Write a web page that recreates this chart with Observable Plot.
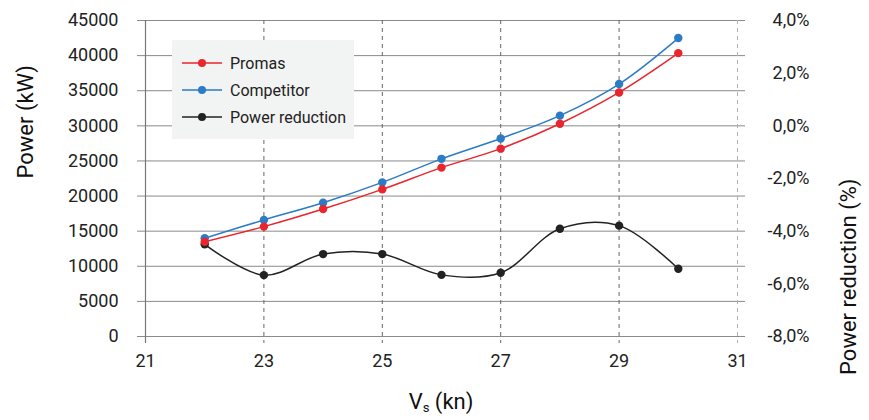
<!DOCTYPE html>
<html>
<head>
<meta charset="utf-8">
<script src="https://cdn.jsdelivr.net/npm/d3@7"></script>
<script src="https://cdn.jsdelivr.net/npm/@observablehq/plot@0.6"></script>
<style>
  body { margin: 0; background: #fff; font-family: Roboto, "Noto Sans", sans-serif; }
  #wrap { position: relative; width: 869px; height: 420px; }
  #legend { position: absolute; left: 172px; top: 40px; width: 182px; height: 99px; background: #f2f3f3; }
  .item { position: absolute; left: 10px; height: 20px; display: flex; align-items: center; font-size: 16px; color: #222; }
  .item svg { margin-right: 8px; }
  #xlabel { position: absolute; left: 0; width: 882px; top: 389px; text-align: center; font-size: 22px; color: #111; }
  #xlabel sub { font-size: 13px; vertical-align: -3px; }
</style>
</head>
<body>
<div id="wrap"></div>
<script>
const speeds = [22, 23, 24, 25, 26, 27, 28, 29, 30];
const promas = [13500, 15650, 18150, 20950, 24050, 26750, 30300, 34750, 40350];
const competitor = [14000, 16600, 19050, 21950, 25300, 28200, 31450, 35950, 42500];
const reduction = [-4.5, -5.67, -4.87, -4.87, -5.66, -5.58, -3.91, -3.79, -5.43];
const xTicks = [21, 23, 25, 27, 29, 31];
const leftTicks = [0, 5000, 10000, 15000, 20000, 25000, 30000, 35000, 40000, 45000];
const rightTicks = [-8, -6, -4, -2, 0, 2, 4];
const seriesNames = ["Promas", "Competitor", "Power reduction"];
const seriesColors = ["#e8262e", "#2b7bc6", "#222222"];

const pMin = -8, pMax = 4, kMax = 45000;
const toKW = p => (p - pMin) / (pMax - pMin) * kMax;
const fmtPct = p => (p < 0 ? "-" : "") + Math.abs(p).toFixed(1).replace(".", ",") + "%";

const rowsP = speeds.map((s, i) => ({x: s, y: promas[i]}));
const rowsC = speeds.map((s, i) => ({x: s, y: competitor[i]}));
const rowsR = speeds.map((s, i) => ({x: s, y: toKW(reduction[i])}));

const chart = Plot.plot({
  width: 869,
  height: 420,
  marginLeft: 145,
  marginRight: 132,
  marginTop: 20,
  marginBottom: 84,
  style: {fontFamily: "Roboto, sans-serif", fontSize: "18px", color: "#222", background: "transparent"},
  x: {domain: [21, 31], axis: null},
  y: {domain: [0, 45000], axis: null},
  marks: [
    Plot.ruleY(leftTicks, {stroke: "#8a8a8a", strokeWidth: 1, insetLeft: -8, insetRight: -8}),
    Plot.ruleX(xTicks.slice(1, -1), {stroke: "#666", strokeDasharray: "4,4", strokeWidth: 1, insetBottom: -7}),
    Plot.ruleX([31], {stroke: "#b0b0b0", strokeDasharray: "4,4", strokeWidth: 1, insetBottom: -7}),
    Plot.ruleX([21], {stroke: "#777", strokeWidth: 1.2, insetBottom: -7}),
    Plot.axisY(leftTicks, {anchor: "left", tickSize: 0, tickPadding: 27, tickFormat: d => String(d), fontSize: 18, label: null}),
    Plot.axisY(rightTicks.map(toKW), {anchor: "right", tickSize: 0, tickPadding: 0, textAnchor: "end", dx: 72, tickFormat: d => fmtPct(Math.round((d / kMax * (pMax - pMin) + pMin) * 10) / 10), fontSize: 18, label: null}),
    Plot.axisX(xTicks, {anchor: "bottom", tickSize: 0, tickPadding: 18, tickFormat: d => String(d), fontSize: 18, label: null}),
    Plot.line(rowsR, {x: "x", y: "y", curve: "catmull-rom", stroke: seriesColors[2], strokeWidth: 1.5}),
    Plot.line(rowsC, {x: "x", y: "y", curve: "catmull-rom", stroke: seriesColors[1], strokeWidth: 1.5}),
    Plot.line(rowsP, {x: "x", y: "y", curve: "catmull-rom", stroke: seriesColors[0], strokeWidth: 1.5}),
    Plot.dot(rowsR, {x: "x", y: "y", r: 4.2, fill: seriesColors[2]}),
    Plot.dot(rowsC, {x: "x", y: "y", r: 4.2, fill: seriesColors[1]}),
    Plot.dot(rowsP, {x: "x", y: "y", r: 4.2, fill: seriesColors[0]}),
    Plot.text(["Power (kW)"], {frameAnchor: "left", text: d => d, rotate: -90, dx: -120, fontSize: 22, fill: "#111", fontWeight: 400}),
    Plot.text(["Power reduction (%)"], {frameAnchor: "right", text: d => d, rotate: -90, dx: 111, fontSize: 22, fill: "#111", fontWeight: 400})
  ]
});

const wrap = document.getElementById("wrap");
wrap.appendChild(chart);

const legend = document.createElement("div");
legend.id = "legend";
seriesNames.forEach((name, i) => {
  const it = document.createElement("div");
  it.className = "item";
  it.style.top = (13 + i * 27) + "px";
  it.innerHTML = `<svg width="40" height="12"><line x1="0" y1="6" x2="40" y2="6" stroke="${seriesColors[i]}" stroke-width="1.5"/><circle cx="20" cy="6" r="4" fill="${seriesColors[i]}"/></svg><span>${name}</span>`;
  legend.appendChild(it);
});
wrap.appendChild(legend);

const xl = document.createElement("div");
xl.id = "xlabel";
xl.innerHTML = "V<sub>s</sub> (kn)";
wrap.appendChild(xl);
</script>
</body>
</html>
